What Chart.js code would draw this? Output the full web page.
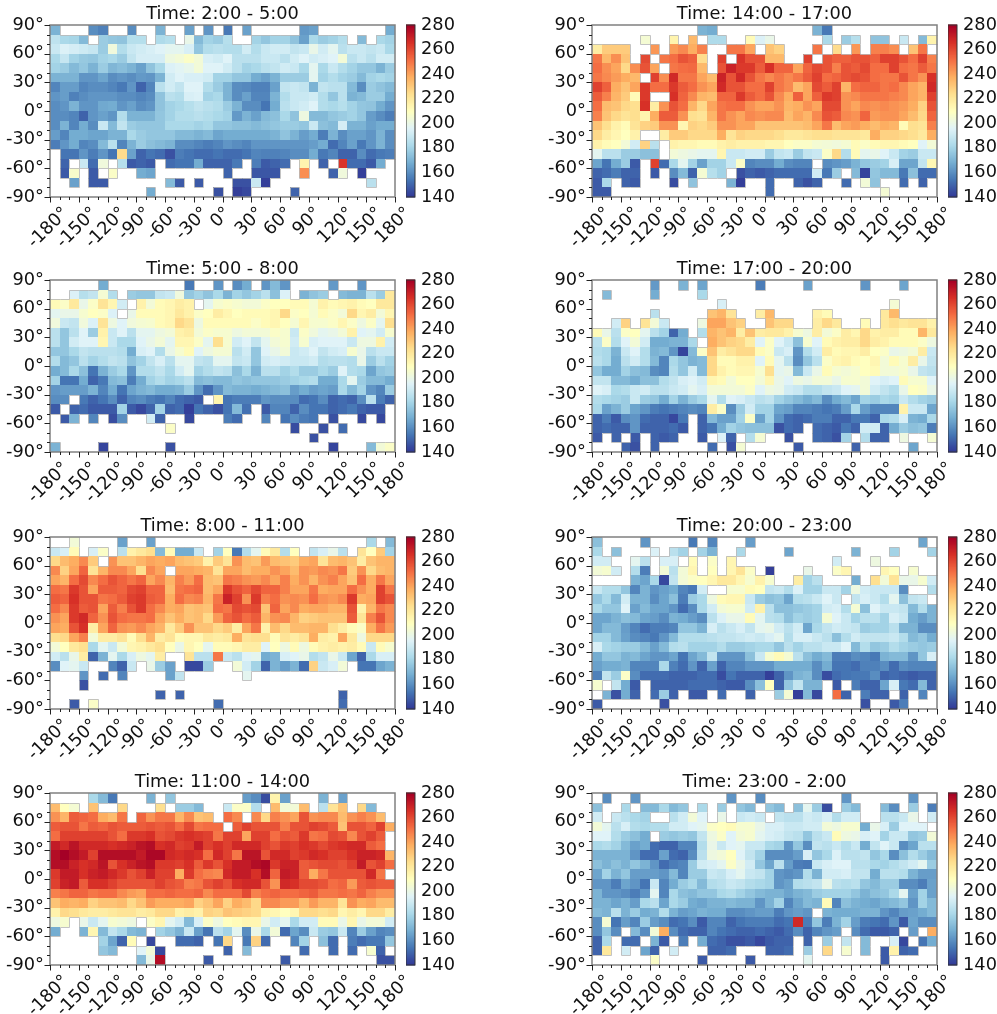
<!DOCTYPE html>
<html>
<head>
<meta charset="utf-8">
<script src="https://cdn.jsdelivr.net/npm/chart.js@4"></script>
<style>
html, body { margin: 0; padding: 0; background: #fff; }
#page { position: relative; width: 997px; height: 1014px; overflow: hidden; }
canvas { position: absolute; }
</style>
</head>
<body>
<div id="page"></div>
<script>
const _ = null;
const lonTicks = [-180, -150, -120, -90, -60, -30, 0, 30, 60, 90, 120, 150, 180];
const latTicks = [-90, -60, -30, 0, 30, 60, 90];
const colorbarTicks = [140, 160, 180, 200, 220, 240, 260, 280];
const titles = ['Time: 2:00 - 5:00', 'Time: 14:00 - 17:00', 'Time: 5:00 - 8:00', 'Time: 17:00 - 20:00',
    'Time: 8:00 - 11:00', 'Time: 20:00 - 23:00', 'Time: 11:00 - 14:00', 'Time: 23:00 - 2:00'];

// rows run from 90 down to -90, columns from -180 to 180, 10 degree cells
const t0205 = [
[170,_,_,_,160,157, _,_,160,_,_,170, _,_,165,_,162,_, 155,_,165,_,_,_, _,_,163,165,_,_, _,_,_,_,_,168],
[187,182,181,172,_,178, 176,175,185,185,_,183, 185,_,200,172,180,178, 185,_,_,180,176,180, 180,175,165,182,178,180, 184,_,172,_,182,180],
[190,195,193,191,189,178, 203,184,190,192,194,196, 198,198,194,176,184,186, 184,184,192,184,190,192, 192,188,190,200,192,198, 186,190,190,188,190,182],
[182,189,180,177,176,180, 182,178,188,193,193,193, 202,204,208,204,194,192, 196,186,186,186,190,190, 186,192,196,192,194,196, 204,186,190,186,192,192],
[180,178,172,176,170,178, 171,173,170,165,175,182, 195,197,199,204,196,196, 192,186,180,182,186,188, 192,190,182,198,182,190, 184,180,176,176,170,178],
[170,170,170,162,162,166, 160,162,160,163,162,170, 192,196,194,194,192,180, 180,176,176,168,165,170, 178,178,178,198,180,184, 180,178,172,180,182,180],
[158,164,164,158,160,160, 158,155,162,150,158,186, 192,188,196,196,184,178, 170,160,159,157,157,165, 188,190,188,170,188,186, 186,172,160,178,175,172],
[162,164,157,160,162,162, 162,160,160,158,160,175, 186,184,194,195,180,182, 170,160,165,158,158,170, 184,190,190,192,184,176, 186,170,172,178,178,168],
[160,162,170,162,162,167, 168,162,165,160,162,175, 180,182,185,188,186,184, 178,170,160,160,154,168, 186,190,192,196,184,182, 185,180,176,175,168,162],
[160,160,158,150,162,165, 162,184,170,170,170,176, 180,184,184,186,184,182, 180,163,170,165,172,174, 182,175,202,172,172,176, 178,180,176,164,160,156],
[160,170,158,168,160,190, 172,188,178,176,176,176, 182,182,182,180,182,176, 176,174,174,172,174,176, 178,178,176,190,174,172, 193,170,170,165,168,168],
[164,158,168,168,166,166, 170,170,182,178,176,176, 176,172,172,170,172,166, 168,168,168,168,168,170, 175,170,164,168,156,170, 160,165,165,162,170,160],
[156,162,168,158,160,172, 186,158,170,178,174,172, 170,160,160,158,156,158, 162,160,158,162,162,162, 162,162,162,164,168,152, 158,165,155,162,170,160],
[_,154,154,162,156,162, 154,225,165,150,154,152, 146,156,154,152,152,154, 152,152,154,158,157,157, 158,160,160,168,155,158, 150,150,160,152,155,156],
[_,150,_,190,152,203, _,185,148,150,148,_, 152,154,154,168,150,150, 150,155,_,156,148,150, 152,_,215,_,150,_, 265,152,152,148,168,_],
[_,148,207,_,148,_, 208,_,_,168,166,_, _,_,_,_,_,_, 150,_,_,147,147,147, _,_,245,_,_,150, 203,_,142,_,_,_],
[_,_,165,_,148,148, _,_,_,_,_,_, 172,148,_,148,_,_, _,146,146,190,142,_, _,_,_,_,_,_, _,_,_,186,_,_],
[_,_,_,_,_,_, _,_,_,_,168,_, _,_,_,_,_,146, _,142,144,_,_,_, _,150,_,_,_,_, _,_,_,_,_,_]
];

const t1417 = [
[_,_,_,_,_,_, _,_,_,_,_,170, 168,_,_,_,_,_, _,_,_,_,_,170, 155,_,_,_,_,_, _,_,_,_,_,_],
[_,_,_,_,_,205, _,_,215,_,235,_, 183,183,_,_,212,195, 200,_,_,_,_,_, 182,_,178,185,_,175, 175,_,190,_,172,215],
[218,230,230,230,_,_, 243,_,242,246,238,248, _,_,250,250,240,_, 232,228,_,_,_,250, _,225,_,243,_,248, 248,245,_,232,250,_],
[250,235,245,232,_,260, _,250,252,258,255,225, _,262,_,265,258,258, 235,235,_,_,262,_, 258,255,255,258,258,255, 262,262,258,252,262,248],
[252,245,240,226,245,258, 240,_,250,252,253,235, _,258,270,264,264,256, 266,254,254,240,254,260, 258,248,258,256,260,252, 252,262,252,250,256,250],
[250,246,242,238,235,_, 262,245,268,250,250,240, 234,270,258,268,258,250, 246,250,246,250,256,262, 252,254,258,260,258,252, 250,250,258,250,244,266],
[262,255,238,232,240,264, 252,252,264,256,252,244, 240,268,258,258,252,252, 262,250,246,234,240,260, 256,262,236,252,254,254, 250,252,246,240,236,268],
[256,248,236,230,212,264, _,_,266,254,246,236, 234,254,254,264,256,252, 258,246,238,255,240,255, 264,262,244,246,250,250, 250,248,246,240,236,262],
[252,234,232,226,224,266, 218,244,258,252,236,226, 240,250,252,252,244,240, 240,244,236,238,244,240, 260,260,244,240,246,244, 246,244,242,238,228,258],
[248,232,226,222,224,215, 238,256,256,244,224,222, 236,250,244,240,246,244, 246,246,234,240,236,246, 258,256,246,244,254,242, 244,244,240,234,226,254],
[232,224,216,212,222,228, 230,244,244,214,228,226, 230,244,244,240,240,232, 232,232,232,232,234,240, 250,234,240,242,238,234, 238,236,212,224,222,248],
[226,218,214,210,216,_, _,218,230,230,226,226, 226,238,222,228,226,226, 226,224,220,220,222,224, 224,222,222,222,220,238, 228,228,226,224,220,238],
[216,212,210,204,192,228, 186,_,216,214,214,212, 212,216,218,216,216,216, 214,214,210,208,208,205, 204,203,205,212,208,212, 214,214,212,210,196,204],
[198,186,186,178,178,174, 174,_,204,202,200,198, 198,214,190,190,192,192, 178,188,190,178,188,190, 208,226,184,212,198,200, 196,190,180,178,190,190],
[166,154,168,178,148,_, 262,152,182,198,180,165, 180,180,190,208,158,160, 160,168,160,158,158,_, 160,162,164,170,176,178, 180,194,166,166,188,213],
[150,152,156,150,150,_, 148,_,160,172,150,205, 185,180,_,146,150,148, 150,152,152,152,152,192, 155,178,_,172,143,176, 172,172,155,174,152,152],
[148,182,_,150,148,_, _,_,145,_,175,_, _,_,170,142,_,_, 152,_,_,150,146,150, _,_,152,_,204,175, _,_,152,_,150,_],
[148,148,_,_,_,_, _,_,_,_,_,_, _,_,_,_,_,_, 152,_,_,_,_,_, _,_,_,_,_,_, 205,_,_,_,_,_]
];

const t0508 = [
[_,_,_,_,_,168, _,_,_,_,_,_, _,_,155,_,_,162, _,160,168,_,162,172, 162,_,_,_,_,163, _,_,162,_,_,_],
[_,_,195,185,188,205, 184,_,178,176,176,188, 190,203,176,180,175,182, 170,180,176,180,186,174, 195,_,170,175,178,_, 172,170,170,186,178,220],
[212,208,220,200,208,222, 214,192,_,216,204,212, 214,218,216,_,198,206, 208,206,204,204,208,210, 210,212,212,205,216,212, 214,216,212,210,220,220],
[198,200,200,206,210,208, 195,_,200,212,212,212, 214,220,216,208,210,218, 214,210,212,212,212,214, 226,208,210,205,212,208, 204,226,214,218,204,214],
[203,190,188,203,195,222, 202,196,203,205,206,212, 214,226,222,202,212,212, 212,212,212,208,212,214, 210,205,214,206,206,208, 214,208,202,208,198,224],
[186,176,186,196,178,216, 190,196,186,198,198,202, 204,216,218,204,208,206, 206,202,204,204,204,208, 206,190,208,203,198,200, 204,216,196,198,192,206],
[186,176,192,196,196,214, 190,182,182,196,200,204, 198,214,214,208,198,224, 206,192,196,188,198,204, 206,192,206,194,196,196, 196,190,202,202,216,192],
[176,176,182,188,186,186, 186,184,168,194,196,184, 200,206,212,196,202,205, 205,186,192,176,196,200, 204,190,192,196,188,192, 194,206,200,186,190,190],
[184,172,176,186,180,184, 188,186,175,180,188,194, 186,198,198,188,186,198, 198,188,190,176,192,194, 192,190,190,192,184,186, 186,184,200,178,186,180],
[168,172,182,174,154,170, 178,182,162,184,184,188, 182,192,198,180,184,188, 186,174,182,170,186,186, 180,184,178,178,182,178, 196,184,182,166,176,178],
[180,154,154,168,150,155, 172,174,156,168,180,184, 180,182,186,172,174,172, 172,176,174,176,176,176, 178,180,182,184,168,168, 182,198,178,172,172,168],
[162,164,164,164,170,158, 168,154,166,170,172,168, 168,170,178,162,152,162, 172,170,170,168,170,172, 174,164,168,164,166,164, 182,172,180,162,158,178],
[160,160,_,155,150,154, 160,150,158,160,156,154, 158,152,150,148,_,215, 154,156,156,156,162,160, 160,160,152,154,160,150, 152,150,160,186,156,150],
[148,_,150,152,148,148, 148,180,148,144,150,180, 150,152,142,154,150,146, 154,172,153,_,148,158, 158,150,160,154,154,150, 152,155,150,148,148,_],
[_,148,170,_,158,_, 145,160,_,_,192,150, _,_,144,_,_,_, 156,152,_,_,158,_, 154,160,156,154,_,146, _,_,144,_,144,_],
[_,_,_,_,_,_, _,_,_,_,_,_, 208,_,_,_,_,_, _,_,_,_,_,_, _,145,_,_,146,_, 152,_,_,_,_,_],
[_,_,_,_,_,_, _,_,_,_,_,_, _,_,_,_,_,_, _,_,_,_,_,_, _,_,_,146,_,_, _,_,_,_,_,_],
[170,_,_,_,_,143, _,_,_,_,_,_, 146,_,_,_,_,_, _,_,_,_,_,_, _,_,_,_,_,143, _,_,_,172,204,208]
];

const t1720 = [
[_,_,_,_,_,_, 163,_,_,170,_,166, _,_,_,_,_,156, _,_,_,_,165,_, _,_,_,_,162,_, _,_,166,_,_,_],
[_,172,_,_,_,_, 168,_,_,_,_,182, _,_,_,_,_,_, _,_,_,_,_,_, _,_,_,_,_,_, _,_,_,_,_,_],
[_,_,_,_,_,_, _,_,_,_,_,_, _,194,_,_,_,_, _,_,_,_,_,_, _,_,_,_,_,_, _,205,_,_,_,_],
[_,_,_,_,_,_, 186,_,_,_,_,_, 232,236,222,_,_,218, 235,_,_,_,_,216, 212,_,_,_,_,_, 220,235,_,_,_,_],
[_,_,192,228,_,222, 204,190,_,_,_,202, 240,240,232,228,_,_, 232,226,226,_,_,218, 226,220,_,_,212,_, 220,224,220,222,222,216],
[212,200,186,208,210,198, 186,180,150,168,_,184, 236,232,236,218,232,218, 220,220,216,206,202,218, 204,208,218,214,226,216, 218,218,212,212,236,220],
[186,208,184,196,204,192, 168,168,170,170,182,_, 238,232,228,226,218,196, 208,196,190,174,206,196, 212,216,218,218,226,218, 216,212,212,212,208,202],
[184,182,170,190,196,184, 170,172,162,143,172,208, 232,218,222,226,226,212, 208,190,194,162,184,192, 218,212,214,214,218,210, 208,200,202,204,218,190],
[186,182,168,186,192,184, 172,158,182,176,170,172, 226,212,212,216,216,196, 212,198,186,160,176,186, 208,214,216,212,210,214, 204,212,206,218,200,188],
[176,168,168,180,174,172, 160,158,184,176,192,172, 226,216,212,214,214,206, 224,198,200,172,190,200, 212,206,204,206,210,212, 204,204,206,200,188,186],
[188,188,172,172,168,174, 174,184,188,194,196,192, 214,212,204,210,210,204, 214,200,196,202,200,204, 204,200,206,206,204,196, 194,196,212,206,206,196],
[196,194,182,184,190,192, 186,186,190,192,198,194, 204,204,204,204,208,196, 202,200,192,190,184,184, 188,190,196,198,204,192, 188,184,200,210,208,200],
[184,182,180,178,190,178, 176,168,180,170,178,182, 198,184,196,194,190,186, 188,180,176,172,168,172, 160,168,172,166,180,178, 182,180,190,184,180,178],
[182,165,170,178,166,162, 156,154,156,158,160,158, 218,208,160,178,192,180, 180,166,164,158,158,156, 154,156,164,182,164,158, 158,158,216,190,190,166],
[150,156,148,160,162,152, 150,150,144,155,_,150, 172,165,165,180,208,165, 180,162,152,150,152,156, 156,150,150,155,155,150, 182,184,194,170,168,182],
[150,152,150,150,162,150, 150,150,152,148,_,150, 154,168,180,176,174,174, 174,146,152,150,_,152, 150,148,155,150,192,192, 150,168,178,174,176,156],
[148,_,150,_,148,_, 150,148,150,_,_,148, _,195,150,_,184,205, _,_,146,_,_,152, 150,146,180,_,184,150, 150,_,202,_,_,205],
[_,_,_,150,146,_, 150,_,_,_,_,_, 152,_,146,205,_,_, _,_,_,148,_,_, _,_,_,150,_,_, _,_,_,166,_,_]
];

const t0811 = [
[_,_,204,_,_,_, _,165,_,_,165,_, _,_,_,_,_,_, _,_,_,_,_,_, _,_,_,_,_,_, _,_,_,182,_,172],
[190,194,212,_,194,208, _,186,216,220,224,172, 212,168,168,190,_,180, 210,155,184,198,212,220, 184,210,_,188,194,200, 186,_,222,210,230,180],
[226,234,238,246,230,_, 244,232,232,236,240,238, 240,234,232,230,216,230, 222,244,234,232,242,234, 232,230,238,240,222,234, 236,232,218,232,236,236],
[246,228,240,254,222,236, 246,246,240,224,246,240, _,240,240,238,236,222, 240,240,234,238,238,244, 240,234,244,242,246,244, 250,230,244,226,234,236],
[240,236,252,260,246,252, 258,254,250,254,240,246, 236,248,242,252,234,232, 250,248,244,242,246,240, 248,238,244,236,244,248, 240,232,252,238,250,240],
[252,250,264,258,240,256, 256,254,260,262,254,254, 234,250,252,254,234,240, 264,258,254,260,254,254, 248,240,240,250,238,240, 240,252,244,238,262,250],
[256,254,266,258,258,250, 252,256,262,264,256,254, 238,252,246,248,236,250, 270,262,244,264,248,252, 244,246,244,252,244,242, 246,264,238,240,262,258],
[252,246,264,256,258,240, 256,248,258,264,252,246, 238,240,232,234,232,252, 250,260,258,260,232,254, 240,246,238,240,240,236, 236,258,216,236,250,246],
[244,240,264,268,254,244, 258,252,250,250,252,240, 232,238,232,234,226,242, 254,258,252,256,236,244, 246,236,228,230,232,232, 232,256,222,248,258,246],
[240,238,258,266,218,240, 254,244,242,246,240,236, 220,230,244,232,232,226, 230,218,240,250,216,234, 226,234,234,236,236,224, 218,212,208,238,250,242],
[224,226,240,248,204,218, 218,222,212,224,236,218, 222,212,214,214,220,218, 220,238,222,224,224,212, 222,218,222,238,218,216, 240,220,202,226,226,226],
[204,210,220,224,182,198, 190,204,214,216,220,224, 210,200,214,210,198,212, 212,214,218,218,196,210, 202,212,202,212,216,218, 216,218,212,190,212,206],
[192,186,200,218,150,170, 198,182,194,202,198,218, _,_,222,186,186,250, 190,186,196,198,168,170, 194,196,200,184,188,200, 190,166,150,182,194,194],
[160,196,198,190,_,_, 158,150,190,_,200,178, 165,_,144,144,178,_, _,204,192,180,150,170, 164,170,152,228,190,194, 204,_,154,154,166,170],
[_,_,_,162,_,152, _,158,_,_,_,_, 165,188,_,_,_,_, _,_,198,_,_,_, _,_,_,_,_,_, _,_,_,_,_,_],
[_,_,_,146,_,_, _,_,_,_,_,_, _,_,_,_,_,_, _,_,_,_,_,_, _,_,_,_,_,_, _,_,_,_,_,_],
[_,_,_,_,_,_, _,_,_,_,_,150, _,150,_,_,_,_, _,_,_,_,_,_, _,_,_,_,_,_, 150,_,_,_,_,_],
[_,_,148,_,208,_, _,_,_,_,_,_, _,_,_,_,_,152, _,_,_,_,_,_, _,_,_,_,_,_, 152,_,_,_,_,_]
];

const t2023 = [
[174,_,_,_,_,162, _,_,_,_,155,_, 158,_,_,_,164,_, _,_,_,_,_,_, _,_,_,_,_,_, _,_,_,_,166,_],
[182,_,174,_,_,_, 195,_,186,180,_,180, 170,_,_,182,_,_, _,_,166,_,_,_, _,_,_,170,_,_, _,180,_,_,_,180],
[192,192,_,_,198,186, _,194,194,_,212,_, 208,_,214,_,_,_, _,_,_,_,_,_, _,192,_,_,_,202, _,_,_,_,_,_],
[204,206,192,_,184,156, _,204,186,204,214,_, 210,_,214,222,208,_, 142,_,_,_,200,_, _,208,214,_,_,_, 214,210,_,206,_,_],
[_,_,_,_,170,166, 182,144,188,204,208,210, 214,220,220,214,206,216, 206,_,_,218,180,186, _,_,_,168,_,224, 204,222,200,200,206,192],
[190,184,184,176,158,170, 162,165,168,158,155,192, _,_,206,206,212,210, 188,190,184,195,180,180, 190,190,180,202,192,190, 190,190,160,_,_,184],
[176,182,172,192,170,170, 160,166,174,156,178,182, 202,212,214,214,190,178, 174,176,166,184,186,190, 196,190,_,188,194,190, 184,198,174,188,190,_],
[182,176,176,196,165,172, 166,166,162,152,160,182, 192,204,206,206,192,216, 186,174,174,176,178,180, 192,194,184,205,174,196, 190,190,188,172,184,170],
[166,166,170,174,172,166, 164,160,170,168,164,160, 186,195,200,200,212,198, 186,184,174,180,178,180, 205,196,190,180,186,186, 180,194,190,168,164,170],
[166,172,172,164,158,152, 156,156,158,176,176,170, 194,186,190,194,188,198, 200,192,186,192,166,182, 188,192,190,188,178,180, 180,186,170,170,160,160],
[180,180,172,165,160,158, 155,162,172,184,184,184, 186,188,188,190,192,190, 194,198,184,194,194,190, 186,174,184,192,188,188, 188,190,184,172,176,168],
[194,182,180,178,178,172, 165,172,184,186,180,180, 180,184,178,178,180,182, 182,176,186,180,186,186, 190,190,196,172,184,176, 178,184,180,178,176,178],
[168,176,176,170,172,166, 162,162,166,154,166,172, 188,162,162,162,174,190, 206,212,205,186,174,168, 172,156,156,160,158,155, 170,172,172,162,176,194],
[165,168,168,170,158,158, 158,182,157,152,162,150, 165,150,158,158,162,162, 162,168,168,168,168,160, 168,154,154,152,157,157, 160,152,160,158,158,158],
[157,188,178,208,160,152, 152,152,150,150,150,152, 152,145,154,150,150,150, 142,150,162,170,172,160, 145,152,154,155,155,160, 150,152,150,148,150,150],
[206,_,188,168,148,_, 150,150,150,150,152,152, 152,150,148,148,160,174, 210,150,176,188,170,170, _,148,_,156,150,150, 166,194,155,152,172,150],
[_,170,146,168,150,_, 152,178,150,_,148,148, _,152,_,_,150,_, _,178,205,142,172,144, _,252,150,_,156,150, 150,_,150,_,158,_],
[148,_,_,_,_,_, _,146,_,_,_,_, _,_,_,_,_,_, _,_,_,_,_,_, _,_,_,_,146,_, _,148,156,_,_,_]
];

const t1114 = [
[_,_,_,_,182,172, 155,_,_,_,170,_, 176,_,_,_,_,_, _,_,164,160,145,215, 165,_,_,_,170,_, 165,_,_,_,_,_],
[234,210,205,_,232,_, _,226,_,_,_,224, _,178,178,172,_,_, 190,208,208,184,_,234, 204,204,234,_,186,222, 232,_,226,172,_,_],
[244,236,256,254,252,238, 234,250,_,254,244,250, 250,236,246,232,234,_, 252,246,_,246,226,248, 244,240,258,244,246,246, 234,244,248,244,234,_],
[256,258,258,250,256,254, 258,256,256,256,258,256, 258,252,260,250,252,252, _,256,262,258,258,258, 248,258,258,262,260,256, 232,258,258,254,262,238],
[252,262,262,262,262,262, 258,252,264,264,266,258, 260,264,266,264,262,250, 262,262,240,262,262,252, 258,256,264,250,252,260, 258,246,258,262,256,_],
[272,268,274,268,268,268, 266,268,270,274,276,266, 268,262,264,272,262,266, 262,268,268,268,262,258, 264,262,266,264,260,264, 266,268,268,256,252,_],
[276,280,276,272,262,276, 276,276,276,272,278,278, 268,266,268,266,252,268, 262,250,274,274,258,268, 268,262,264,268,266,262, 262,266,270,270,268,236],
[276,276,270,266,268,274, 258,266,270,274,276,264, 264,262,266,256,264,258, 266,272,272,276,278,264, 270,270,256,258,260,260, 258,262,272,258,262,252],
[264,272,272,266,270,272, 268,264,258,262,270,262, 262,238,264,252,248,246, 268,272,272,266,276,254, 272,270,256,238,250,258, 258,258,258,268,250,_],
[262,270,272,256,266,266, 262,258,258,258,258,262, 258,256,248,250,258,262, 258,266,268,268,258,244, 268,266,260,260,258,252, 254,242,256,258,256,256],
[248,250,254,254,250,252, 252,246,242,240,252,252, 254,252,252,254,246,252, 252,252,260,248,252,254, 252,252,254,256,250,250, 252,250,254,248,244,244],
[232,238,236,238,228,232, 232,234,226,232,242,238, 238,238,240,228,232,240, 228,238,234,226,246,246, 242,242,234,242,236,236, 222,244,238,240,234,234],
[216,226,224,220,218,218, 220,222,222,218,220,226, 226,216,218,216,228,226, 232,230,228,226,216,214, 210,214,226,226,224,226, 214,218,214,226,226,218],
[202,206,_,200,190,198, 206,204,202,_,208,214, 198,192,172,194,208,202, 210,212,214,214,200,192, 198,182,192,192,212,212, 200,214,200,204,204,192],
[168,_,_,170,214,172, 188,182,172,170,_,180, 176,170,190,165,154,186, 180,198,160,200,182,204, 152,166,160,190,178,176, 190,158,178,165,158,160],
[_,_,_,_,_,180, 166,150,212,_,144,_, _,152,152,150,_,154, 226,_,155,228,152,_, _,158,180,_,174,152, _,156,152,155,155,176],
[_,_,_,_,_,176, 172,_,_,196,204,144, _,_,_,_,_,_, 150,_,172,_,_,_, _,_,152,_,_,152, _,152,_,206,150,_],
[_,_,_,_,_,_, _,_,_,172,200,276, _,_,_,_,148,_, _,_,_,_,_,_, 148,_,_,_,_,_, _,_,_,_,146,146]
];

const t2302 = [
[_,160,_,_,162,_, _,_,_,_,_,_, _,_,162,_,_,160, _,_,_,_,_,_, _,_,162,_,_,_, _,_,_,162,_,_],
[174,_,_,182,_,172, 172,182,172,176,_,182, _,178,_,176,172,_, 176,172,_,174,198,178, 145,_,178,172,_,_, 172,160,_,178,_,156],
[192,_,190,186,182,180, _,_,186,192,204,196, _,200,_,190,192,190, _,188,186,186,192,190, 194,184,192,192,_,_, 186,186,190,200,_,192],
[204,198,186,194,184,182, 184,184,192,192,196,198, 208,210,212,206,206,200, 194,194,190,190,192,192, 204,202,206,206,168,200, 194,178,196,196,196,_],
[196,196,184,178,174,168, _,178,176,178,176,188, 202,208,196,204,206,198, 194,192,188,186,176,186, 190,212,202,200,194,196, 180,190,190,176,178,204],
[182,184,180,172,165,168, 152,150,150,158,158,184, 200,190,196,198,190,190, 182,180,162,176,160,188, 186,190,184,190,168,188, 196,190,160,166,186,186],
[170,170,170,170,162,152, 152,165,152,150,160,186, 202,204,210,196,188,180, 160,160,160,164,194,176, 182,195,186,186,188,176, 182,160,174,184,178,172],
[174,170,174,170,176,170, 162,152,156,158,178,192, 194,198,208,200,192,176, 166,186,164,156,155,190, 194,196,196,186,186,182, 180,184,188,192,198,178],
[166,180,170,176,164,164, 164,162,172,158,178,178, 190,188,194,198,190,188, 180,162,160,162,184,170, 192,192,194,188,188,168, 186,186,184,170,164,164],
[162,162,156,166,162,154, 190,158,168,178,182,172, 184,186,190,188,184,182, 180,162,165,184,186,188, 200,186,184,186,176,172, 178,178,160,160,156,165],
[170,162,162,160,156,162, 198,158,182,174,172,176, 176,182,184,180,176,172, 170,170,166,170,172,178, 180,180,180,176,170,174, 176,182,198,165,180,165],
[170,170,166,170,164,182, 186,166,182,178,168,166, 170,170,172,170,170,162, 170,180,158,166,172,170, 212,158,174,170,168,166, 170,172,176,162,180,172],
[172,170,186,170,178,168, 170,184,170,164,166,170, 168,168,160,160,162,164, 164,156,162,164,162,_, 170,168,168,168,170,170, 162,158,164,165,168,172],
[160,205,154,164,158,178, 164,160,152,154,160,148, 158,158,150,154,156,156, 156,152,154,268,156,176, 156,170,180,164,156,154, 152,162,148,166,160,160],
[160,176,160,_,172,160, 204,238,160,152,150,150, 158,154,152,150,150,152, 150,148,152,160,150,158, 162,164,_,160,152,148, 148,150,_,164,_,238],
[150,182,_,152,152,_, 170,148,_,156,_,168, 152,150,146,146,148,144, 148,150,150,_,150,_, 178,_,188,_,172,_, _,194,144,_,154,168],
[150,220,_,192,_,166, 150,_,192,_,_,_, 150,150,152,_,_,_, 150,150,152,_,178,_, 226,_,206,_,172,_, 148,216,150,152,_,_],
[_,_,_,_,_,_, 208,_,_,_,_,148, _,_,_,_,148,_, _,_,_,_,198,_, _,_,_,_,_,_, 148,_,_,_,_,_]
];

const panels = [t0205, t1417, t0508, t1720, t0811, t2023, t1114, t2302];

// matplotlib RdYlBu_r anchor colours
const cmap = [[49,54,149],[69,117,180],[116,173,209],[171,217,233],[224,243,248],[255,255,191],
    [254,224,144],[253,174,97],[244,109,67],[215,48,39],[165,0,38]];
const vmin = 140, vmax = 280;

function colorFor(v) {
    const t = Math.min(1, Math.max(0, (v - vmin) / (vmax - vmin))) * (cmap.length - 1);
    const i = Math.min(cmap.length - 2, Math.floor(t));
    const f = t - i;
    const c = cmap[i].map((a, k) => Math.round(a + (cmap[i + 1][k] - a) * f));
    return 'rgb(' + c[0] + ',' + c[1] + ',' + c[2] + ')';
}

const fontName = '"DejaVu Sans"';
const tickSize = 17.8;
const page = document.getElementById('page');

function addCanvas(left, top, w, h) {
    const c = document.createElement('canvas');
    c.width = w; c.height = h;
    c.style.left = left + 'px'; c.style.top = top + 'px';
    c.style.width = w + 'px'; c.style.height = h + 'px';
    page.appendChild(c);
    return c;
}

// cells, outlines, spines, ticks and rotated labels go through the chart scales
const heatmapPlugin = {
    id: 'heatmap',
    beforeDatasetsDraw(chart) {
        const { ctx, scales: { x, y } } = chart;
        const grid = chart.config.options.grid2d;
        ctx.save();
        grid.forEach((row, r) => row.forEach((v, c) => {
            if (v === null) return;
            const lon = -180 + c * 10, lat = 90 - r * 10;
            const x0 = Math.round(x.getPixelForValue(lon)), x1 = Math.round(x.getPixelForValue(lon + 10));
            const y0 = Math.round(y.getPixelForValue(lat)), y1 = Math.round(y.getPixelForValue(lat - 10));
            ctx.fillStyle = colorFor(v);
            ctx.fillRect(x0, y0, x1 - x0, y1 - y0);
        }));
        // thin grey edge where a filled cell meets an empty one
        ctx.strokeStyle = 'rgba(185,185,185,0.85)';
        ctx.lineWidth = 1;
        ctx.beginPath();
        const empty = (r, c) => r >= 0 && r < grid.length && c >= 0 && c < 36 && grid[r][c] === null;
        grid.forEach((row, r) => row.forEach((v, c) => {
            if (v === null) return;
            const lon = -180 + c * 10, lat = 90 - r * 10;
            const x0 = Math.round(x.getPixelForValue(lon)) + 0.5, x1 = Math.round(x.getPixelForValue(lon + 10)) + 0.5;
            const y0 = Math.round(y.getPixelForValue(lat)) + 0.5, y1 = Math.round(y.getPixelForValue(lat - 10)) + 0.5;
            if (empty(r - 1, c)) { ctx.moveTo(x0, y0); ctx.lineTo(x1, y0); }
            if (empty(r + 1, c)) { ctx.moveTo(x0, y1); ctx.lineTo(x1, y1); }
            if (empty(r, c - 1)) { ctx.moveTo(x0, y0); ctx.lineTo(x0, y1); }
            if (empty(r, c + 1)) { ctx.moveTo(x1, y0); ctx.lineTo(x1, y1); }
        }));
        ctx.stroke();
        ctx.restore();
    },
    afterDraw(chart) {
        const { ctx, chartArea: a, scales: { x, y } } = chart;
        ctx.save();
        ctx.strokeStyle = '#808080';
        ctx.lineWidth = 1.5;
        ctx.strokeRect(a.left, a.top, a.right - a.left, a.bottom - a.top);
        ctx.strokeStyle = '#222';
        ctx.lineWidth = 1;
        ctx.beginPath();
        for (let lon = -180; lon <= 180; lon += 10) {
            const px = Math.round(x.getPixelForValue(lon)) + 0.5;
            ctx.moveTo(px, a.bottom);
            ctx.lineTo(px, a.bottom + (lonTicks.includes(lon) ? 5.5 : 3));
        }
        for (let lat = -90; lat <= 90; lat += 10) {
            const py = Math.round(y.getPixelForValue(lat)) + 0.5;
            ctx.moveTo(a.left, py);
            ctx.lineTo(a.left - (latTicks.includes(lat) ? 5.5 : 3), py);
        }
        ctx.stroke();
        ctx.fillStyle = '#111';
        ctx.font = tickSize + 'px ' + fontName;
        ctx.textAlign = 'center';
        ctx.textBaseline = 'middle';
        lonTicks.forEach(lon => {
            const text = lon + '°';
            const w = ctx.measureText(text).width;
            const half = (w + tickSize * 0.95) * Math.SQRT1_2 / 2;
            ctx.save();
            ctx.translate(x.getPixelForValue(lon) - 1.5, a.bottom + 7.5 + half);
            ctx.rotate(-Math.PI / 4);
            ctx.fillText(text, 0, 0);
            ctx.restore();
        });
        ctx.restore();
    }
};

const colorbarPlugin = {
    id: 'colorbar',
    beforeDatasetsDraw(chart) {
        const { ctx, chartArea: a, scales: { y } } = chart;
        ctx.save();
        for (let v = vmin; v < vmax; v++) {
            const y0 = y.getPixelForValue(v), y1 = y.getPixelForValue(v + 1);
            ctx.fillStyle = colorFor(v + 0.5);
            ctx.fillRect(a.left, y1 - 0.5, a.right - a.left, y0 - y1 + 1);
        }
        ctx.strokeStyle = '#333';
        ctx.lineWidth = 1;
        ctx.strokeRect(a.left, a.top, a.right - a.left, a.bottom - a.top);
        ctx.restore();
    }
};

const rowTops = [25, 280, 537, 793];
const colLefts = [0, 542];

panels.forEach((grid, i) => {
    const row = Math.floor(i / 2), col = i % 2;
    const top = rowTops[row], left = colLefts[col];
    const cells = [];
    grid.forEach((r, ri) => r.forEach((v, ci) => {
        if (v !== null) cells.push({ x: -175 + ci * 10, y: 85 - ri * 10, v: v });
    }));

    new Chart(addCanvas(left, top - 24, 430, 250), {
        type: 'scatter',
        data: { datasets: [{ data: cells, pointRadius: 0, pointHoverRadius: 0 }] },
        plugins: [heatmapPlugin],
        options: {
            grid2d: grid,
            responsive: false,
            animation: false,
            devicePixelRatio: 1,
            layout: { padding: { right: 35 } },
            events: [],
            plugins: {
                legend: { display: false },
                tooltip: { enabled: false },
                title: {
                    display: true,
                    text: titles[i],
                    color: '#111',
                    fullSize: false,
                    font: { family: fontName, size: tickSize, weight: 'normal', lineHeight: 1 },
                    padding: { top: 4.2, bottom: 2 }
                }
            },
            scales: {
                x: {
                    type: 'linear', min: -180, max: 180,
                    grid: { display: false, drawTicks: false },
                    border: { display: false },
                    ticks: { display: false },
                    afterBuildTicks: s => { s.ticks = lonTicks.map(v => ({ value: v })); },
                    afterFit: s => { s.height = 54; }
                },
                y: {
                    type: 'linear', min: -90, max: 90,
                    grid: { display: false, drawTicks: false },
                    border: { display: false },
                    ticks: {
                        color: '#111',
                        padding: 6,
                        autoSkip: false,
                        font: { family: fontName, size: tickSize },
                        callback: v => v + '°'
                    },
                    afterBuildTicks: s => { s.ticks = latTicks.map(v => ({ value: v })); },
                    afterFit: s => { s.width = 50; }
                }
            }
        }
    });

    new Chart(addCanvas(left + 406, top - 24, 70, 250), {
        type: 'scatter',
        data: { datasets: [{ data: [] }] },
        plugins: [colorbarPlugin],
        options: {
            responsive: false,
            animation: false,
            devicePixelRatio: 1,
            events: [],
            layout: { padding: { top: 24, bottom: 54 } },
            plugins: { legend: { display: false }, tooltip: { enabled: false } },
            scales: {
                x: { display: false },
                y: {
                    position: 'right',
                    type: 'linear', min: vmin, max: vmax,
                    grid: { display: false, drawTicks: true, tickLength: 4, tickColor: '#222' },
                    border: { display: false },
                    ticks: {
                        color: '#111',
                        padding: 2,
                        autoSkip: false,
                        font: { family: fontName, size: tickSize }
                    },
                    afterBuildTicks: s => { s.ticks = colorbarTicks.map(v => ({ value: v })); },
                    afterFit: s => { s.width = 61; }
                }
            }
        }
    });
});
</script>
</body>
</html>
